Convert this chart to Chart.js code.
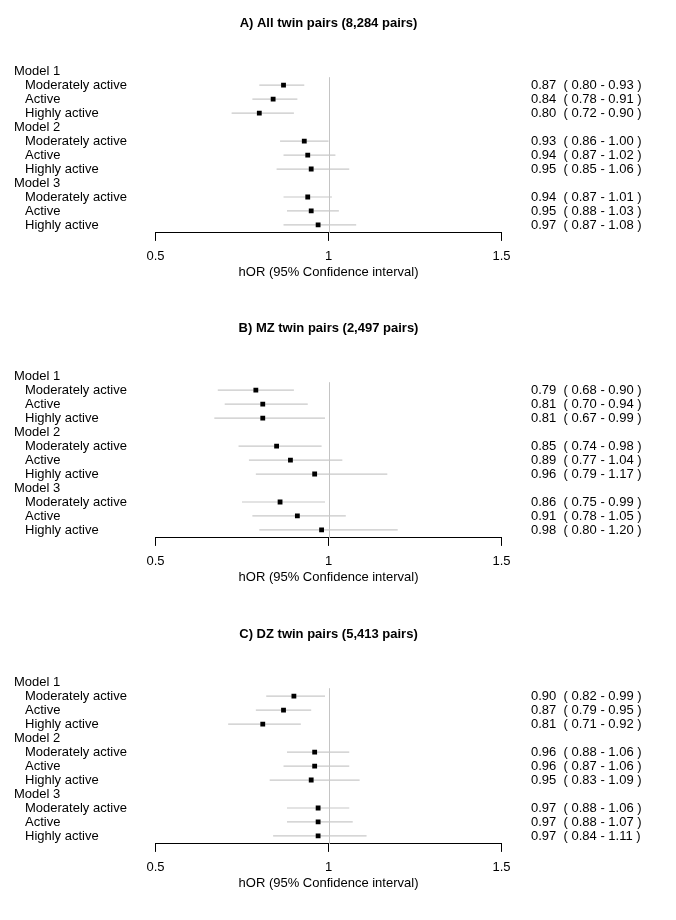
<!DOCTYPE html>
<html>
<head>
<meta charset="utf-8">
<script src="https://cdn.jsdelivr.net/npm/chart.js@4.4.0/dist/chart.umd.min.js"></script>
<style>
body { margin: 0; background: #fff; }
#wrap { position: relative; width: 676px; height: 920px; }
#wrap canvas { position: absolute; left: 0; }
</style>
</head>
<body>
<div id="wrap">
  <canvas id="panelA" width="676" height="306" style="top:0px"></canvas>
  <canvas id="panelB" width="676" height="306" style="top:305px"></canvas>
  <canvas id="panelC" width="676" height="306" style="top:611px"></canvas>
</div>
<script>
const panelTitles = ['A) All twin pairs (8,284 pairs)', 'B) MZ twin pairs (2,497 pairs)', 'C) DZ twin pairs (5,413 pairs)'];
const modelLabels = ['Model 1', 'Model 2', 'Model 3'];
const activityLabels = ['Moderately active', 'Active', 'Highly active'];
const xTicks = [0.5, 1, 1.5];
const xTickLabels = ['0.5', '1', '1.5'];
const axisTitle = 'hOR (95% Confidence interval)';

// A) all pairs
const orAll  = [0.87, 0.84, 0.80, 0.93, 0.94, 0.95, 0.94, 0.95, 0.97];
const lowAll = [0.80, 0.78, 0.72, 0.86, 0.87, 0.85, 0.87, 0.88, 0.87];
const highAll = [0.93, 0.91, 0.90, 1.00, 1.02, 1.06, 1.01, 1.03, 1.08];
// B) MZ pairs
const orMZ  = [0.79, 0.81, 0.81, 0.85, 0.89, 0.96, 0.86, 0.91, 0.98];
const lowMZ = [0.68, 0.70, 0.67, 0.74, 0.77, 0.79, 0.75, 0.78, 0.80];
const highMZ = [0.90, 0.94, 0.99, 0.98, 1.04, 1.17, 0.99, 1.05, 1.20];
// C) DZ pairs
const orDZ  = [0.90, 0.87, 0.81, 0.96, 0.96, 0.95, 0.97, 0.97, 0.97];
const lowDZ = [0.82, 0.79, 0.71, 0.88, 0.87, 0.83, 0.88, 0.88, 0.84];
const highDZ = [0.99, 0.95, 0.92, 1.06, 1.06, 1.09, 1.06, 1.07, 1.11];

Chart.defaults.font.family = "'Liberation Sans', Arial, sans-serif";
Chart.defaults.font.size = 13;
Chart.defaults.color = '#000';

const FONT = "13px 'Liberation Sans', Arial, sans-serif";

// row 0 = Model 1 header, rows 1-3 its items, row 4 = Model 2 header ...
function rowOf(i) {
    return Math.floor(i / 3) * 4 + 1 + (i % 3);
}

const forestText = {
    id: 'forestText',
    beforeDatasetsDraw(chart) {
        // null line at hOR = 1
        const ctx = chart.ctx, area = chart.chartArea;
        const x = Math.round(chart.scales.x.getPixelForValue(1)) + 0.5;
        ctx.save();
        ctx.strokeStyle = '#c4c4c4';
        ctx.lineWidth = 1;
        ctx.beginPath();
        ctx.moveTo(x, area.top);
        ctx.lineTo(x, area.bottom);
        ctx.stroke();
        ctx.restore();
    },
    afterDraw(chart, args, opts) {
        const ctx = chart.ctx, y = chart.scales.y;
        ctx.save();
        ctx.font = FONT;
        ctx.fillStyle = '#000';
        ctx.textAlign = 'left';
        ctx.textBaseline = 'middle';
        modelLabels.forEach((m, k) => {
            ctx.fillText(m, 14, y.getPixelForValue(k * 4));
        });
        opts.or.forEach((v, i) => {
            const py = y.getPixelForValue(rowOf(i));
            ctx.fillText(activityLabels[i % 3], 25, py);
            const txt = v.toFixed(2) + '  ( ' + opts.low[i].toFixed(2) + ' - ' + opts.high[i].toFixed(2) + ' )';
            ctx.fillText(txt, 531, py);
        });
        ctx.restore();
    }
};

function makePanel(id, title, or, low, high) {
    const ciSets = or.map((v, i) => ({
        type: 'line',
        data: [{ x: low[i], y: rowOf(i) }, { x: high[i], y: rowOf(i) }],
        borderColor: '#c8c8c8',
        borderWidth: 1.2,
        pointRadius: 0
    }));
    new Chart(document.getElementById(id), {
        type: 'scatter',
        data: {
            datasets: [{
                data: or.map((v, i) => ({ x: v, y: rowOf(i) })),
                pointStyle: 'rect',
                pointRadius: 3.4,
                backgroundColor: '#000',
                borderWidth: 0
            }].concat(ciSets)
        },
        options: {
            responsive: false,
            animation: false,
            layout: { padding: { left: 155.5, right: 174.5, top: 0, bottom: 26 } },
            scales: {
                x: {
                    type: 'linear',
                    min: 0.5,
                    max: 1.5,
                    afterBuildTicks: s => { s.ticks = xTicks.map(v => ({ value: v })); },
                    ticks: {
                        callback: (v, i) => xTickLabels[i],
                        padding: 8.2,
                        maxRotation: 0,
                        autoSkip: false
                    },
                    grid: { drawOnChartArea: false, drawTicks: true, tickLength: 8, color: '#000', tickColor: '#000' },
                    border: { display: true, color: '#000', width: 1 },
                    title: { display: true, text: axisTitle, padding: { top: -8.5, bottom: 0 } }
                },
                y: { type: 'linear', reverse: true, min: 0.43, max: 11.57, display: false }
            },
            plugins: {
                legend: { display: false },
                tooltip: { enabled: false },
                title: {
                    display: true,
                    text: title,
                    fullSize: false,
                    font: { size: 13, weight: 'bold' },
                    padding: { top: 15.5, bottom: 46.1 }
                },
                forestText: { or: or, low: low, high: high }
            }
        },
        plugins: [forestText]
    });
}

makePanel('panelA', panelTitles[0], orAll, lowAll, highAll);
makePanel('panelB', panelTitles[1], orMZ, lowMZ, highMZ);
makePanel('panelC', panelTitles[2], orDZ, lowDZ, highDZ);
</script>
</body>
</html>
